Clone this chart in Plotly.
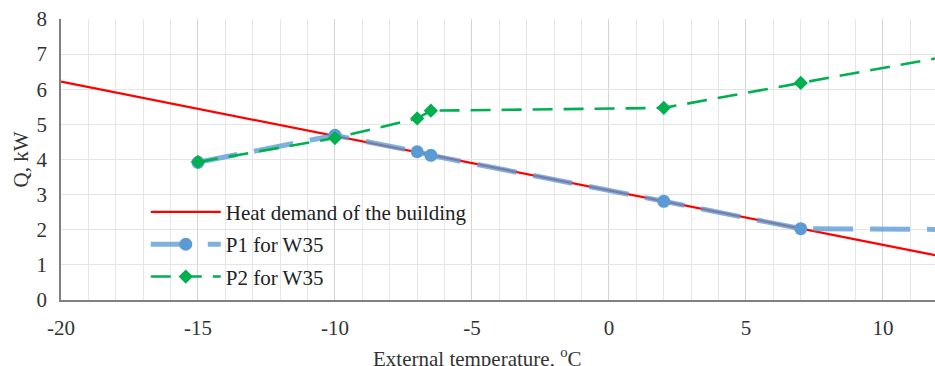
import plotly.graph_objects as go

# Data
temp_demand = [-20, 12]
heat_demand = [6.22, 1.26]

temp_p = [-15, -10, -7, -6.5, 2, 7, 12]
p1_w35 = [3.92, 4.69, 4.22, 4.12, 2.81, 2.03, 2.01]
p2_w35 = [3.93, 4.61, 5.17, 5.39, 5.47, 6.18, 6.89]

x_ticks = [-20, -15, -10, -5, 0, 5, 10]
x_labels = ["-20", "-15", "-10", "-5", "0", "5", "10"]
y_ticks = [0, 1, 2, 3, 4, 5, 6, 7, 8]

FONT = "Liberation Serif"
FS = 21

fig = go.Figure()
fig.add_trace(go.Scatter(
    x=temp_demand, y=heat_demand, mode="lines", name="Heat demand of the building",
    line=dict(color="#ff0000", width=2.2), legendgroup="a", cliponaxis=False))
fig.add_trace(go.Scatter(
    x=temp_p, y=p1_w35, mode="lines+markers", name="P1 for W35",
    line=dict(color="rgba(91,155,213,0.78)", width=5, dash="40px,17px"),
    marker=dict(symbol="circle", size=13, color="#5b9bd5"),
    legendgroup="b", cliponaxis=False))
fig.add_trace(go.Scatter(
    x=temp_p, y=p2_w35, mode="lines+markers", name="P2 for W35",
    line=dict(color="#00b050", width=2.6, dash="20px,11px"),
    marker=dict(symbol="diamond", size=11, color="#00b050"),
    legendgroup="c", cliponaxis=False))

fig.update_layout(
    width=935, height=366,
    margin=dict(l=61, r=0, t=19, b=66),
    plot_bgcolor="white", paper_bgcolor="white",
    font=dict(family=FONT, size=FS, color="#333333"),
    showlegend=True,
    legend=dict(x=0.097, y=0.385, xanchor="left", yanchor="top",
                bgcolor="rgba(0,0,0,0)", font=dict(family=FONT, size=FS, color="#222222"),
                tracegroupgap=2, itemwidth=70),
    xaxis=dict(range=[-20, 11.9], tickvals=x_ticks, ticktext=x_labels, showgrid=True,
               gridcolor="#d4d4d4", gridwidth=1,
               minor=dict(dtick=1, tick0=0, showgrid=True, gridcolor="#e6e6e6", gridwidth=1),
               showline=True, linecolor="#808080", linewidth=1.5,
               zeroline=False, ticks="", ticklabelstandoff=8,
               tickfont=dict(family=FONT, size=FS, color="#333333")),
    yaxis=dict(range=[0, 8], tickvals=y_ticks, showgrid=True,
               gridcolor="#e4e4e4", gridwidth=1,
               showline=True, linecolor="#808080", linewidth=1.5,
               zeroline=False, ticks="", ticklabelstandoff=8,
               tickfont=dict(family=FONT, size=FS, color="#333333"),
               title=dict(text="Q, kW", font=dict(family=FONT, size=FS, color="#333333"), standoff=2)),
    annotations=[dict(text="External temperature, <sup>o</sup>C", xref="paper", yref="paper",
                      x=0.476, y=-0.205, xanchor="center", yanchor="middle", showarrow=False,
                      font=dict(family=FONT, size=FS, color="#333333"))],
)

fig.write_html("out.html")
